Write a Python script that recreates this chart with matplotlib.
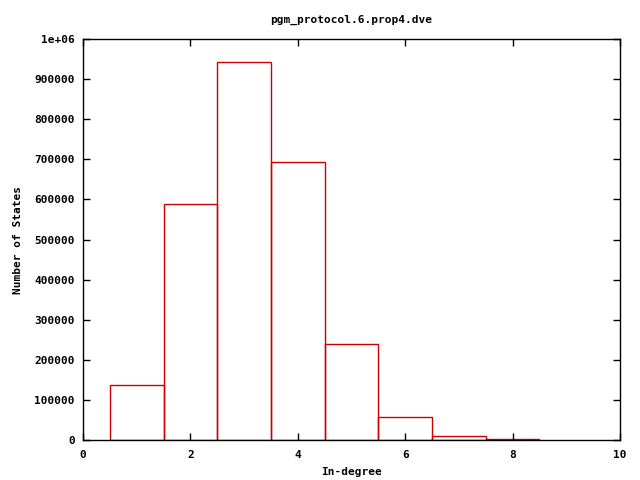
import matplotlib
matplotlib.use('Agg')
import matplotlib.pyplot as plt

# in-degree histogram
degrees = [1, 2, 3, 4, 5, 6, 7, 8]
states = [137000, 588000, 942000, 693000, 239000, 57000, 9300, 1800]

plt.rcParams['font.family'] = 'DejaVu Sans Mono'
plt.rcParams['font.weight'] = 'bold'
plt.rcParams['font.size'] = 8

fig = plt.figure(figsize=(6.4, 4.8), dpi=100)
ax = fig.add_axes([0.1297, 0.0833, 0.8391, 0.8354])

ax.bar(degrees, states, width=1.0, facecolor='none', edgecolor='#cc0000', linewidth=1)

ax.set_xlim(0, 10)
ax.set_ylim(0, 1000000)
ax.set_xticks([0, 2, 4, 6, 8, 10])
ax.set_yticks(range(0, 1000001, 100000))
ax.set_yticklabels([str(v) for v in range(0, 1000000, 100000)] + ['1e+06'])
ax.tick_params(direction='in', top=True, right=True, length=5, width=1)
ax.tick_params(axis='x', pad=7)
ax.tick_params(axis='y', pad=6)
for s in ax.spines.values():
    s.set_linewidth(1)

ax.set_title('pgm_protocol.6.prop4.dve', fontsize=8, fontweight='bold', pad=12)
ax.set_xlabel('In-degree', fontweight='bold', labelpad=5)
ax.set_ylabel('Number of States', fontweight='bold', labelpad=8)

plt.savefig('out.png')
